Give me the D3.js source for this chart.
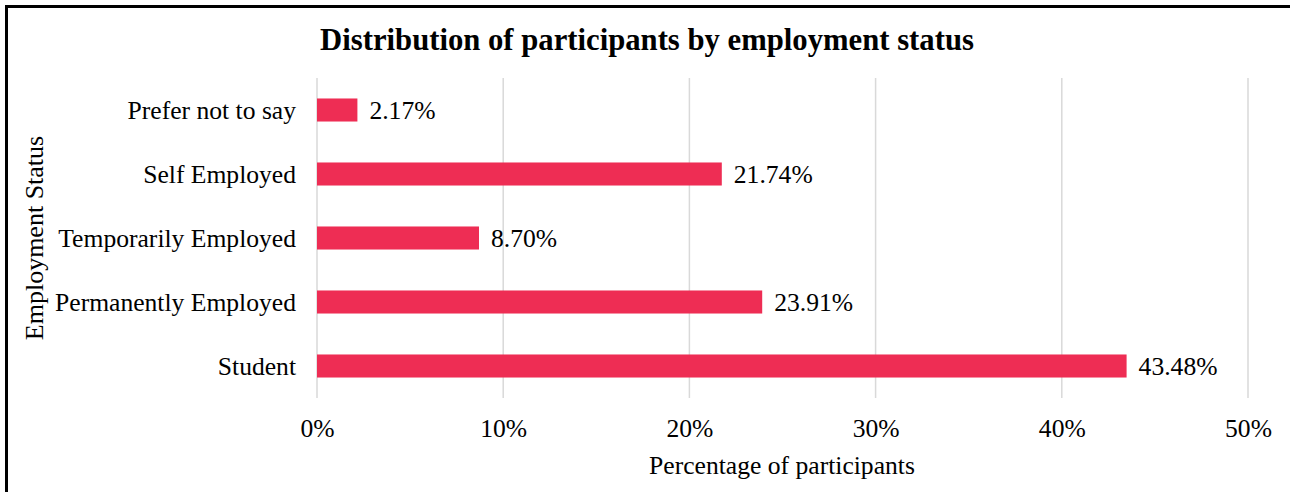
<!DOCTYPE html>
<html>
<head>
<meta charset="utf-8">
<script src="https://cdn.jsdelivr.net/npm/d3@7"></script>
<style>
  html, body { margin: 0; padding: 0; background: #fff; }
  svg { display: block; }
  text { font-family: "Liberation Serif", "Times New Roman", serif; fill: #000; }
</style>
</head>
<body>
<svg id="chart" width="1290" height="492"></svg>
<script>
// Employment status categories (top to bottom) and their shares in percent
const categories = ["Prefer not to say", "Self Employed", "Temporarily Employed", "Permanently Employed", "Student"];
const values = [2.17, 21.74, 8.70, 23.91, 43.48];
const xTicks = [0, 10, 20, 30, 40, 50];

const svg = d3.select("#chart");
const W = 1290, H = 492;
const plot = { left: 317, right: 1248, top: 78, bottom: 398 };
const labelSize = "25.6px";

// Outer frame
svg.append("rect")
  .attr("x", 6.5).attr("y", 6.5)
  .attr("width", W + 10).attr("height", H + 10)
  .attr("fill", "#fff").attr("stroke", "#000").attr("stroke-width", 3);

const x = d3.scaleLinear().domain([0, 50]).range([plot.left, plot.right]);
const y = d3.scaleBand().domain(categories).range([plot.top, plot.bottom]).paddingInner(0.64).paddingOuter(0.32);

// Vertical gridlines
svg.append("g").selectAll("line").data(xTicks).join("line")
  .attr("x1", d => x(d)).attr("x2", d => x(d))
  .attr("y1", plot.top).attr("y2", plot.bottom)
  .attr("stroke", "#d9d9d9").attr("stroke-width", 1.5);

// X axis tick labels
const xAxis = d3.axisBottom(x).tickValues(xTicks).tickFormat(d => d + "%").tickSize(0).tickPadding(0);
const gx = svg.append("g").attr("transform", `translate(0,${plot.bottom + 39})`).call(xAxis);
gx.select(".domain").remove();
gx.selectAll("text").attr("dy", 0).style("font-size", labelSize).style("font-family", "Liberation Serif");

// Y axis category labels
const yAxis = d3.axisLeft(y).tickSize(0).tickPadding(0);
const gy = svg.append("g").attr("transform", `translate(${plot.left - 21},0)`).call(yAxis);
gy.select(".domain").remove();
gy.selectAll("text").attr("dy", "0.34em").style("font-size", labelSize).style("font-family", "Liberation Serif");

// Bars
svg.append("g").selectAll("rect").data(values).join("rect")
  .attr("x", x(0))
  .attr("y", (d, i) => y(categories[i]))
  .attr("width", d => x(d) - x(0))
  .attr("height", y.bandwidth())
  .attr("fill", "#ee2d54");

// Value labels
svg.append("g").selectAll("text").data(values).join("text")
  .attr("x", d => x(d) + 12)
  .attr("y", (d, i) => y(categories[i]) + y.bandwidth() / 2)
  .attr("dy", "0.36em")
  .style("font-size", labelSize)
  .text(d => d.toFixed(2) + "%");

// Title
svg.append("text")
  .attr("x", 647).attr("y", 50)
  .attr("text-anchor", "middle")
  .style("font-size", "30.7px").style("font-weight", "bold")
  .text("Distribution of participants by employment status");

// Axis titles
svg.append("text")
  .attr("x", 782).attr("y", 474)
  .attr("text-anchor", "middle")
  .style("font-size", labelSize)
  .text("Percentage of participants");

svg.append("text")
  .attr("transform", `translate(43,${(plot.top + plot.bottom) / 2}) rotate(-90)`)
  .attr("text-anchor", "middle")
  .style("font-size", "26px")
  .text("Employment Status");
</script>
</body>
</html>
